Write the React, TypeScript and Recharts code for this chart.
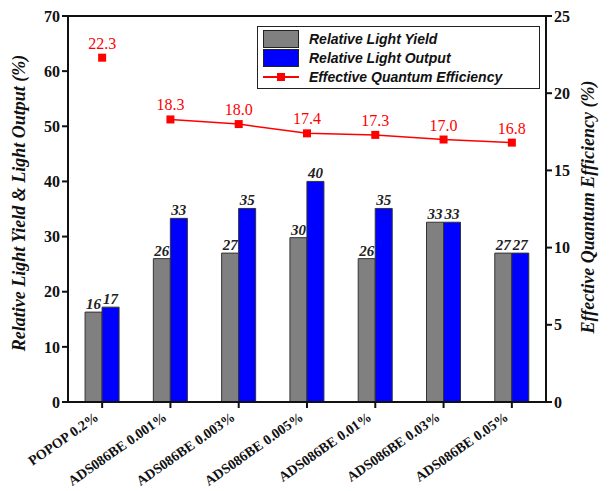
import { ComposedChart, Bar, Line, XAxis, YAxis, LabelList, ReferenceLine } from 'recharts'

const categories = [
  'POPOP 0.2%',
  'ADS086BE 0.001%',
  'ADS086BE 0.003%',
  'ADS086BE 0.005%',
  'ADS086BE 0.01%',
  'ADS086BE 0.03%',
  'ADS086BE 0.05%',
]
const lightYield = [16.3, 26, 27, 29.8, 26, 32.6, 27]
const lightOutput = [17.2, 33.3, 35.1, 40, 35.1, 32.6, 27]
const quantumEff = [22.3, 18.3, 18.0, 17.4, 17.3, 17.0, 16.8]
const leftTicks = [0, 10, 20, 30, 40, 50, 60, 70]
const rightTicks = [0, 5, 10, 15, 20, 25]

// first point (POPOP) stands alone, the ADS086BE points are joined
const data = categories.map((name, i) => ({
  name,
  yield: lightYield[i],
  output: lightOutput[i],
  eqeLine: i === 0 ? null : quantumEff[i],
  eqeFirst: i === 0 ? quantumEff[i] : null,
}))

const SERIF = '"Liberation Serif", "Times New Roman", serif'
const SANS = '"Liberation Sans", Arial, sans-serif'

const SquareDot = (props: any) => {
  const { cx, cy, value } = props
  if (value == null || cx == null || cy == null) return <g />
  return <rect x={cx - 4} y={cy - 4} width={8} height={8} fill="#ff0000" />
}

const XTick = ({ x, y, payload }: any) => (
  <g transform={`translate(${x - 5},${y + 6})`}>
    <text
      x={0}
      y={0}
      dy={4}
      textAnchor="end"
      transform="rotate(-35)"
      fontFamily={SERIF}
      fontWeight="bold"
      fontSize={14}
      fill="#111"
    >
      {payload.value}
    </text>
  </g>
)

const LegendBox = () => {
  const rows = [
    { label: 'Relative Light Yield', kind: 'gray' },
    { label: 'Relative Light Output', kind: 'blue' },
    { label: 'Effective Quantum Efficiency', kind: 'line' },
  ]
  return (
    <div
      style={{
        position: 'absolute',
        left: 257,
        top: 26,
        border: '1.5px solid #222',
        background: '#fff',
        width: 276,
        padding: '2px 0 2px 5px',
      }}
    >
      {rows.map((r) => (
        <div key={r.label} style={{ display: 'flex', alignItems: 'center', height: 19 }}>
          <div style={{ width: 36, height: 17, position: 'relative', marginRight: 10 }}>
            {r.kind === 'line' ? (
              <>
                <div style={{ position: 'absolute', left: 0, right: 0, top: 8, height: 2, background: '#ff0000' }} />
                <div style={{ position: 'absolute', left: 14, top: 5, width: 8, height: 8, background: '#ff0000' }} />
              </>
            ) : (
              <div
                style={{
                  width: 34,
                  height: 16,
                  border: '1px solid #222',
                  background: r.kind === 'gray' ? '#808080' : '#0000ff',
                }}
              />
            )}
          </div>
          <span style={{ fontFamily: SANS, fontStyle: 'italic', fontWeight: 'bold', fontSize: 14, color: '#111' }}>
            {r.label}
          </span>
        </div>
      ))}
    </div>
  )
}

export default function App() {
  return (
    <div style={{ position: 'absolute', left: 0, top: 0, width: 611, height: 491, background: '#fff' }}>
      <ComposedChart
        width={611}
        height={491}
        data={data}
        margin={{ top: 16, right: 25, bottom: 0, left: 28 }}
        barCategoryGap="25%"
        barGap={0}
      >
        <XAxis
          dataKey="name"
          tick={<XTick />}
          interval={0}
          height={89}
          tickSize={6}
          axisLine={{ stroke: '#111', strokeWidth: 2 }}
          tickLine={{ stroke: '#111', strokeWidth: 2 }}
        />
        <YAxis
          yAxisId="left"
          domain={[0, 70]}
          ticks={leftTicks}
          width={40}
          tickSize={6}
          axisLine={{ stroke: '#111', strokeWidth: 2 }}
          tickLine={{ stroke: '#111', strokeWidth: 2 }}
          tick={{ fontFamily: SERIF, fontWeight: 'bold', fontSize: 16, fill: '#111' }}
          label={() => (
            <text
              x={21}
              y={203}
              transform="rotate(-90 21 203)"
              textAnchor="middle"
              dominantBaseline="middle"
              fontFamily={SERIF}
              fontStyle="italic"
              fontWeight="bold"
              fontSize={18}
              fill="#111"
            >
              Relative Light Yield &amp; Light Output (%)
            </text>
          )}
        />
        <YAxis
          yAxisId="right"
          orientation="right"
          domain={[0, 25]}
          ticks={rightTicks}
          width={40}
          tickSize={6}
          axisLine={{ stroke: '#111', strokeWidth: 2 }}
          tickLine={{ stroke: '#111', strokeWidth: 2 }}
          tick={{ fontFamily: SERIF, fontWeight: 'bold', fontSize: 16, fill: '#111' }}
          label={() => (
            <text
              x={590}
              y={207}
              transform="rotate(-90 590 207)"
              textAnchor="middle"
              dominantBaseline="middle"
              fontFamily={SERIF}
              fontStyle="italic"
              fontWeight="bold"
              fontSize={18}
              fill="#111"
            >
              Effective Quantum Efficiency (%)
            </text>
          )}
        />
        <ReferenceLine yAxisId="left" y={70} stroke="#111" strokeWidth={2} />
        <Bar yAxisId="left" dataKey="yield" fill="#808080" stroke="#333" strokeWidth={1} isAnimationActive={false}>
          <LabelList
            dataKey="yield"
            position="top"
            offset={3}
            formatter={(v: any) => Math.round(v)}
            style={{ fontFamily: SERIF, fontStyle: 'italic', fontWeight: 'bold', fontSize: 15, fill: '#222' }}
          />
        </Bar>
        <Bar yAxisId="left" dataKey="output" fill="#0000ff" stroke="#333" strokeWidth={1} isAnimationActive={false}>
          <LabelList
            dataKey="output"
            position="top"
            offset={3}
            formatter={(v: any) => Math.round(v)}
            style={{ fontFamily: SERIF, fontStyle: 'italic', fontWeight: 'bold', fontSize: 15, fill: '#222' }}
          />
        </Bar>
        <Line
          yAxisId="right"
          dataKey="eqeLine"
          stroke="#ff0000"
          strokeWidth={1.5}
          dot={<SquareDot />}
          activeDot={false}
          connectNulls={false}
          isAnimationActive={false}
        >
          <LabelList
            dataKey="eqeLine"
            position="top"
            offset={9}
            formatter={(v: any) => (v == null ? '' : Number(v).toFixed(1))}
            style={{ fontFamily: SERIF, fontSize: 16, fill: '#ff0000' }}
          />
        </Line>
        <Line
          yAxisId="right"
          dataKey="eqeFirst"
          stroke="#ff0000"
          strokeWidth={1.5}
          dot={<SquareDot />}
          activeDot={false}
          isAnimationActive={false}
        >
          <LabelList
            dataKey="eqeFirst"
            position="top"
            offset={9}
            formatter={(v: any) => (v == null ? '' : Number(v).toFixed(1))}
            style={{ fontFamily: SERIF, fontSize: 16, fill: '#ff0000' }}
          />
        </Line>
      </ComposedChart>
      <LegendBox />
    </div>
  )
}
